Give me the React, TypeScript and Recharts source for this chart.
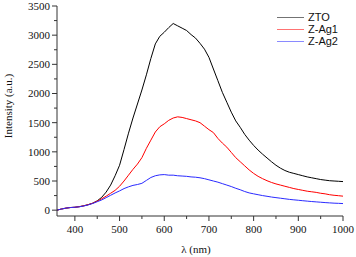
import { LineChart, Line, XAxis, YAxis, Legend } from 'recharts';

// wavelength grid (nm), one reading every 10 nm
const WAVELENGTHS = [
  360, 370, 380, 390, 400, 410, 420, 430, 440, 450, 460, 470, 480, 490, 500, 510, 520, 530, 540, 550,
  560, 570, 580, 590, 600, 610, 620, 630, 640, 650, 660, 670, 680, 690, 700, 710, 720, 730, 740, 750,
  760, 770, 780, 790, 800, 810, 820, 830, 840, 850, 860, 870, 880, 890, 900, 910, 920, 930, 940, 950,
  960, 970, 980, 990, 1000,
];

const ZTO = [
  0, 20, 35, 45, 50, 60, 75, 95, 120, 160, 220, 310, 430, 590, 770, 1040, 1320, 1580, 1820, 2060,
  2320, 2600, 2850, 2980, 3050, 3130, 3200, 3160, 3120, 3080, 3010, 2950, 2860, 2760, 2620, 2420, 2220, 2020, 1850, 1680,
  1530, 1420, 1300, 1200, 1110, 1030, 960, 895, 830, 770, 720, 680, 650, 630, 610, 590, 570, 555, 540, 525,
  515, 505, 500, 495, 490,
];

const Z_AG1 = [
  0, 20, 35, 45, 50, 60, 75, 95, 120, 155, 195, 240, 290, 340, 410, 500, 600, 700, 790, 900,
  1060, 1200, 1340, 1430, 1480, 1540, 1580, 1600, 1590, 1570, 1550, 1530, 1500, 1440, 1380, 1330, 1230, 1150, 1080, 990,
  900, 830, 760, 690, 630, 580, 540, 505, 475, 450, 430, 410, 390, 370, 355, 340, 325, 315, 305, 290,
  280, 265, 255, 248, 240,
];

const Z_AG2 = [
  0, 20, 35, 45, 50, 58, 72, 90, 115, 145, 175, 215, 255, 295, 330, 370, 400, 425, 440, 460,
  510, 560, 590, 605, 610, 600, 600, 590, 585, 580, 570, 565, 555, 540, 520, 500, 480, 455, 430, 405,
  375, 350, 320, 296, 280, 265, 250, 238, 225, 215, 205, 195, 185, 177, 170, 162, 155, 148, 142, 136,
  130, 125, 120, 117, 113,
];

const X_TICKS = [400, 450, 500, 550, 600, 650, 700, 750, 800, 850, 900, 950, 1000];
const Y_TICKS = [0, 250, 500, 750, 1000, 1250, 1500, 1750, 2000, 2250, 2500, 2750, 3000, 3250, 3500];

const SERIES = [
  { key: 'zto', name: 'ZTO', color: '#000000' },
  { key: 'ag1', name: 'Z-Ag1', color: '#ff0000' },
  { key: 'ag2', name: 'Z-Ag2', color: '#2a2aff' },
];

const data = WAVELENGTHS.map((wl, i) => ({ wl, zto: ZTO[i], ag1: Z_AG1[i], ag2: Z_AG2[i] }));

const SERIF = '"Liberation Serif", "Times New Roman", serif';
const AXIS = '#333';

const XTick = (props: any) => {
  const { x, y, payload } = props;
  const major = payload.value % 100 === 0;
  return (
    <g>
      <line x1={x} x2={x} y1={y} y2={y + (major ? 5 : 3)} stroke={AXIS} />
      {major && (
        <text x={x} y={y + 17} textAnchor="middle" fontFamily={SERIF} fontSize={11} fill="#111">
          {payload.value}
        </text>
      )}
    </g>
  );
};

const YTick = (props: any) => {
  const { x, y, payload } = props;
  const major = payload.value % 500 === 0;
  return (
    <g>
      <line x1={x - (major ? 5 : 3)} x2={x} y1={y} y2={y} stroke={AXIS} />
      {major && (
        <text x={x - 7} y={y} dy="0.35em" textAnchor="end" fontFamily={SERIF} fontSize={11} fill="#111">
          {payload.value}
        </text>
      )}
    </g>
  );
};

const YLabel = () => (
  <text
    x={12}
    y={106}
    transform="rotate(-90 12 106)"
    textAnchor="middle"
    fontFamily={SERIF}
    fontSize={11}
    fill="#111"
  >
    Intensity (a.u.)
  </text>
);

const LegendBox = () => (
  <div style={{ fontFamily: '"Liberation Sans", Arial, sans-serif', fontSize: 11, color: '#111' }}>
    {SERIES.map(s => (
      <div key={s.key} style={{ display: 'flex', alignItems: 'center', height: 12 }}>
        <span style={{ display: 'inline-block', width: 27, height: 0, borderTop: `1px solid ${s.color}`, opacity: 0.55, marginRight: 4 }} />
        {s.name}
      </div>
    ))}
  </div>
);

export default function App() {
  return (
    <div style={{ position: 'absolute', left: 0, top: 0, background: '#fff' }}>
      <LineChart width={356} height={257} data={data} margin={{ top: 6, right: 13, left: 0, bottom: 0 }}>
        <XAxis
          dataKey="wl"
          type="number"
          domain={[360, 1000]}
          ticks={X_TICKS}
          interval={0}
          height={41}
          tickSize={0}
          tickMargin={0}
          tickLine={false}
          tick={<XTick />}
          stroke={AXIS}
          label={{ value: 'λ (nm)', position: 'insideBottom', offset: 4, dx: -4, fontFamily: SERIF, fontSize: 11, fill: '#111' }}
        />
        <XAxis xAxisId="top" orientation="top" dataKey="wl" type="number" domain={[360, 1000]} height={0} tick={false} tickLine={false} stroke={AXIS} />
        <YAxis
          type="number"
          domain={[-100, 3500]}
          ticks={Y_TICKS}
          interval={0}
          width={57}
          tickSize={0}
          tickMargin={0}
          tickLine={false}
          tick={<YTick />}
          stroke={AXIS}
          label={<YLabel />}
        />
        <YAxis yAxisId="right" orientation="right" domain={[-100, 3500]} width={0} tick={false} tickLine={false} stroke={AXIS} />
        <Legend content={<LegendBox />} layout="horizontal" verticalAlign="middle" wrapperStyle={{ position: 'absolute', top: 11, left: 277, width: 70 }} />
        {SERIES.map(s => (
          <Line key={s.key} dataKey={s.key} name={s.name} stroke={s.color} strokeWidth={1} dot={false} isAnimationActive={false} />
        ))}
      </LineChart>
    </div>
  );
}
